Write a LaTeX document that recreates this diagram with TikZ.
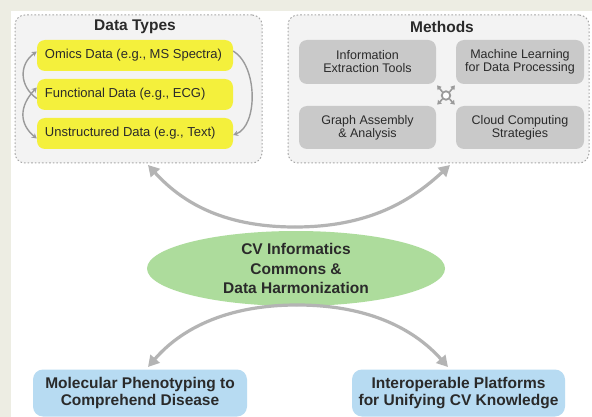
\documentclass[tikz,border=0pt]{standalone}
\usepackage{fontspec}
\setmainfont{Liberation Sans}
\usetikzlibrary{arrows.meta,shapes.geometric}
\definecolor{bgbeige}{HTML}{EDEDE3}
\definecolor{panelfill}{HTML}{F3F3F3}
\definecolor{panelline}{HTML}{A8A8A8}
\definecolor{yelfill}{HTML}{F4F03C}
\definecolor{grayfill}{HTML}{C9C9C9}
\definecolor{greenfill}{HTML}{ADDC9C}
\definecolor{bluefill}{HTML}{B7DBF2}
\definecolor{arrgray}{HTML}{B4B4B4}
\definecolor{smallarr}{HTML}{9A9A9A}
\definecolor{txtdark}{HTML}{2A2A2A}
\begin{document}
\begin{tikzpicture}[x=1pt,y=-1pt,
  panel/.style={draw=panelline,fill=panelfill,line width=1pt,dash pattern=on 1.6pt off 2pt,rounded corners=10pt,minimum width=#1,minimum height=148pt,inner sep=0pt},
  paneltitle/.style={font=\fontsize{15.5}{18}\selectfont\bfseries,text=txtdark,inner sep=0pt},
  ybox/.style={fill=yelfill,rounded corners=8pt,minimum height=31pt,minimum width=196pt,inner xsep=8pt,inner ysep=0pt,font=\fontsize{13}{16}\selectfont,text=txtdark},
  gbox/.style={fill=grayfill,rounded corners=8pt,minimum width=#1,minimum height=44pt,inner sep=0pt,align=center,font=\fontsize{12.5}{13}\selectfont,text=txtdark},
  bbox/.style={fill=bluefill,rounded corners=10pt,minimum width=#1,minimum height=47pt,inner sep=0pt,align=center,font=\fontsize{15.5}{17}\selectfont\bfseries,text=txtdark},
  bigarr/.style={draw=arrgray,line width=3.2pt,-{Triangle[length=11pt,width=12pt]}},
  smarr/.style={draw=smallarr,line width=1.4pt,-{Stealth[length=5pt,width=5.5pt]}},
  smarrb/.style={draw=smallarr,line width=1.4pt,{Stealth[length=5pt,width=5.5pt]}-{Stealth[length=5pt,width=5.5pt]}},
  hubarr/.style={draw=smallarr,line width=1.6pt,-{Triangle[length=4pt,width=5pt]}}
]
\useasboundingbox (0,0) rectangle (592,417);
\fill[bgbeige] (0,0) rectangle (592,417);
\fill[white] (11,11) rectangle (592,417);

% panels
\node[panel=247pt] (dt) at (138.5,89) {};
\node[panel=301pt] (me) at (438.5,89) {};
\node[paneltitle] (dtt) at (135,27) {Data Types};
\node[paneltitle] (met) at (442,27) {Methods};

% data types
\node[ybox] (omics) at (135,55.5) {\makebox[180pt][l]{Omics Data (e.g., MS Spectra)}};
\node[ybox] (func) at (135,94.5) {\makebox[180pt][l]{Functional Data (e.g., ECG)}};
\node[ybox] (unst) at (135,133.5) {\makebox[180pt][l]{Unstructured Data (e.g., Text)}};

\draw[smarr] ([yshift=-4pt]func.west) .. controls (19,86) and (19,64) .. ([yshift=4pt]omics.west);
\draw[smarrb] ([yshift=7pt]func.west) .. controls (19,106) and (19,124) .. ([yshift=-5pt]unst.west);
\draw[smarr] ([yshift=4.5pt]omics.east) .. controls (258,66) and (258,126) .. ([yshift=-1.5pt]unst.east);

% methods
\node[gbox=137pt] (info) at (367.5,62) {Information\\Extraction Tools};
\node[gbox=128pt] (ml) at (520,62) {Machine Learning\\for Data Processing};
\node[gbox=137pt,minimum height=43pt] (graph) at (367.5,127.5) {Graph Assembly\\\& Analysis};
\node[gbox=128pt,minimum height=43pt] (cloud) at (520,127.5) {Cloud Computing\\Strategies};

\node[circle,draw=smallarr,line width=1.8pt,fill=white,minimum size=8.5pt,inner sep=0pt] (hub) at (446,95.5) {};
\draw[hubarr,shorten >=1.5pt] (hub.north west) -- (info.south east);
\draw[hubarr,shorten >=1.5pt] (hub.north east) -- (ml.south west);
\draw[hubarr,shorten >=1.5pt] (hub.south west) -- (graph.north east);
\draw[hubarr,shorten >=1.5pt] (hub.south east) -- (cloud.north west);

% center
\node[ellipse,fill=greenfill,minimum width=298pt,minimum height=75pt,inner sep=0pt,align=center,font=\fontsize{15.5}{19.5}\selectfont\bfseries,text=txtdark] (ell) at (296,268.5) {CV Informatics\\Commons \&\\Data Harmonization};

\coordinate (upmid) at (295,227);
\coordinate (dtin) at (148,165);
\coordinate (mein) at (450,165);
\draw[bigarr] (upmid) .. controls (220,227) and (180,200) .. (dtin);
\draw[bigarr] (upmid) .. controls (370,227) and (412,200) .. (mein);

% outputs
\node[bbox=214pt] (mol) at (140,393) {Molecular Phenotyping to\\Comprehend Disease};
\node[bbox=213pt] (intr) at (458.5,393) {Interoperable Platforms\\for Unifying CV Knowledge};

\coordinate (lowmid) at (297,305);
\coordinate (molin) at (148,367);
\coordinate (intin) at (448,367);
\draw[bigarr] (lowmid) .. controls (225,305) and (180,330) .. (molin);
\draw[bigarr] (lowmid) .. controls (370,305) and (415,330) .. (intin);
\end{tikzpicture}
\end{document}
